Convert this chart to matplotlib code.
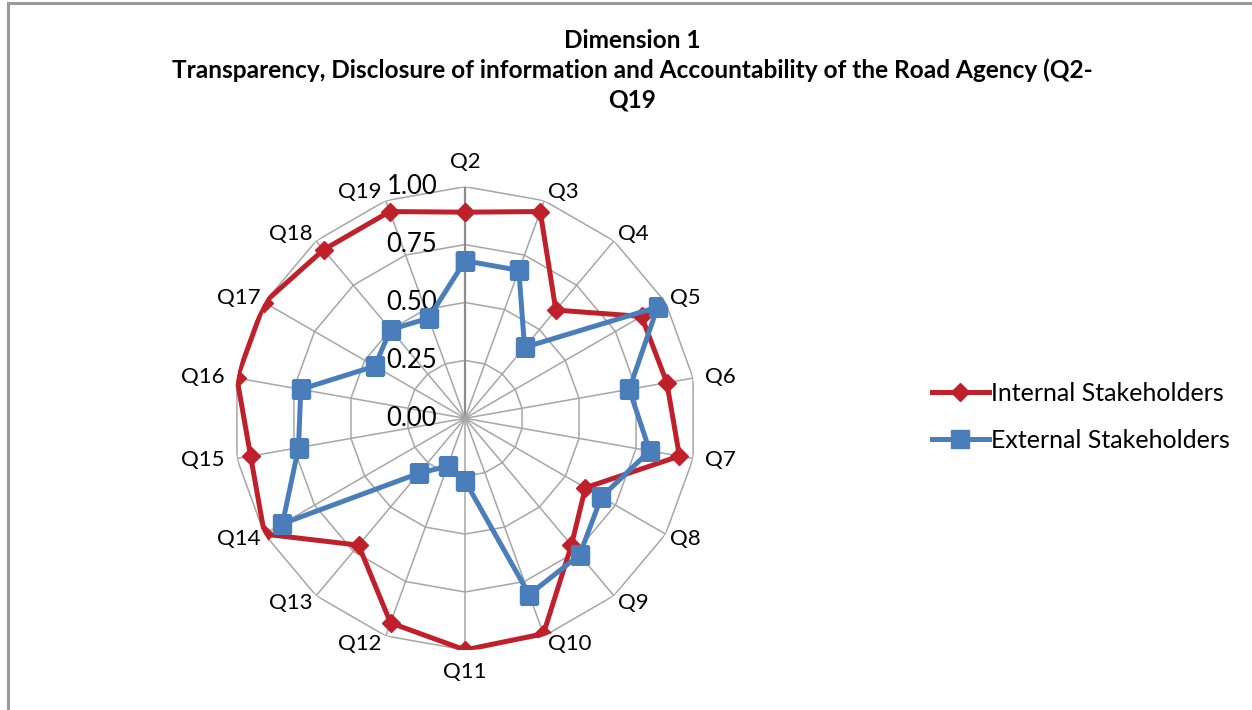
import numpy as np
import matplotlib
matplotlib.use('Agg')
import matplotlib.pyplot as plt
from matplotlib.patches import Rectangle

plt.rcParams['font.family'] = ['Lato', 'DejaVu Sans']

# data
questions = ['Q2', 'Q3', 'Q4', 'Q5', 'Q6', 'Q7', 'Q8', 'Q9', 'Q10',
             'Q11', 'Q12', 'Q13', 'Q14', 'Q15', 'Q16', 'Q17', 'Q18', 'Q19']
internal = [0.89, 0.95, 0.61, 0.88, 0.885, 0.94, 0.60, 0.715, 0.99,
            1.00, 0.94, 0.715, 1.00, 0.94, 1.00, 1.00, 0.95, 0.95]
external = [0.68, 0.68, 0.40, 0.96, 0.72, 0.81, 0.68, 0.77, 0.81,
            0.27, 0.22, 0.31, 0.91, 0.73, 0.72, 0.45, 0.50, 0.46]
levels = [0.0, 0.25, 0.50, 0.75, 1.00]
level_labels = ['0.00', '0.25', '0.50', '0.75', '1.00']

red = '#C0202A'
blue = '#4A7EBB'
grid_col = '#A6A6A6'

W, H = 1252, 710
fig = plt.figure(figsize=(W / 100, H / 100), dpi=100)

# chart area border
fig.patches.append(Rectangle((7.5 / W, -0.01), 1.1, (H - 2.5) / H + 0.01,
                             transform=fig.transFigure, fill=False,
                             edgecolor='#9A9A9A', lw=2.2))

cx, cy, R = 465, 418.3, 231.6
ax = fig.add_axes([(cx - R) / W, (H - cy - R) / H, 2 * R / W, 2 * R / H],
                  projection='polar')
ax.set_theta_offset(np.pi / 2)
ax.set_theta_direction(-1)
ax.set_ylim(0, 1)
ax.grid(False)
ax.spines['polar'].set_visible(False)
ax.set_xticks([])
ax.set_yticks([])
ax.patch.set_visible(False)

n = len(questions)
theta = np.arange(n) * 2 * np.pi / n
theta_c = np.append(theta, theta[0])

# polygon grid
for lv in levels[1:]:
    ax.plot(theta_c, [lv] * (n + 1), color=grid_col, lw=1.1, zorder=1)
for i, t in enumerate(theta):
    ax.plot([t, t], [0, 1], color='#8C8C8C' if i == 0 else grid_col,
            lw=1.6 if i == 0 else 1.1, zorder=1)

# series
ax.plot(theta_c, internal + internal[:1], color=red, lw=3.6, marker='D',
        ms=9, mec=red, mfc=red, zorder=3, label='Internal Stakeholders')
ax.plot(theta_c, external + external[:1], color=blue, lw=3.6, marker='s',
        ms=13, mec=blue, mfc=blue, zorder=4, label='External Stakeholders')

# category labels, placed next to the outer vertex like Excel does
for t, q in zip(theta, questions):
    s, c = np.sin(t), np.cos(t)
    if abs(s) < 0.1:
        off = (0, 25 if c > 0 else -22)
        ha = 'center'
    else:
        gap = 12 if abs(s) > 0.9 else 4
        off = (gap * np.sign(s), 9 * c)
        ha = 'left' if s > 0 else 'right'
    ax.annotate(q, xy=(t, 1.0), xytext=off, textcoords='offset pixels',
                ha=ha, va='center', fontsize=16, color='black')

# radial value labels on the first spoke
for lv, lab in zip(levels, level_labels):
    ax.annotate(lab, xy=(0, lv), xytext=(-20, 0), textcoords='offset points',
                ha='right', va='center', fontsize=18.5, color='black')

title_fs = 17.6
fig.text(632 / W, 1 - 40 / H, 'Dimension 1', ha='center', va='center',
         fontsize=title_fs, fontweight='bold')
fig.text(632 / W, 1 - 70 / H,
         'Transparency, Disclosure of information and Accountability of the Road Agency (Q2-',
         ha='center', va='center', fontsize=title_fs, fontweight='bold')
fig.text(632 / W, 1 - 100 / H, 'Q19', ha='center', va='center',
         fontsize=title_fs, fontweight='bold')

fig.legend(loc='center left', bbox_to_anchor=(909 / W, 1 - 417 / H),
           frameon=False, fontsize=18, handlelength=2.3, handletextpad=0.08,
           labelspacing=0.95)

fig.savefig('out.png', dpi=100)
